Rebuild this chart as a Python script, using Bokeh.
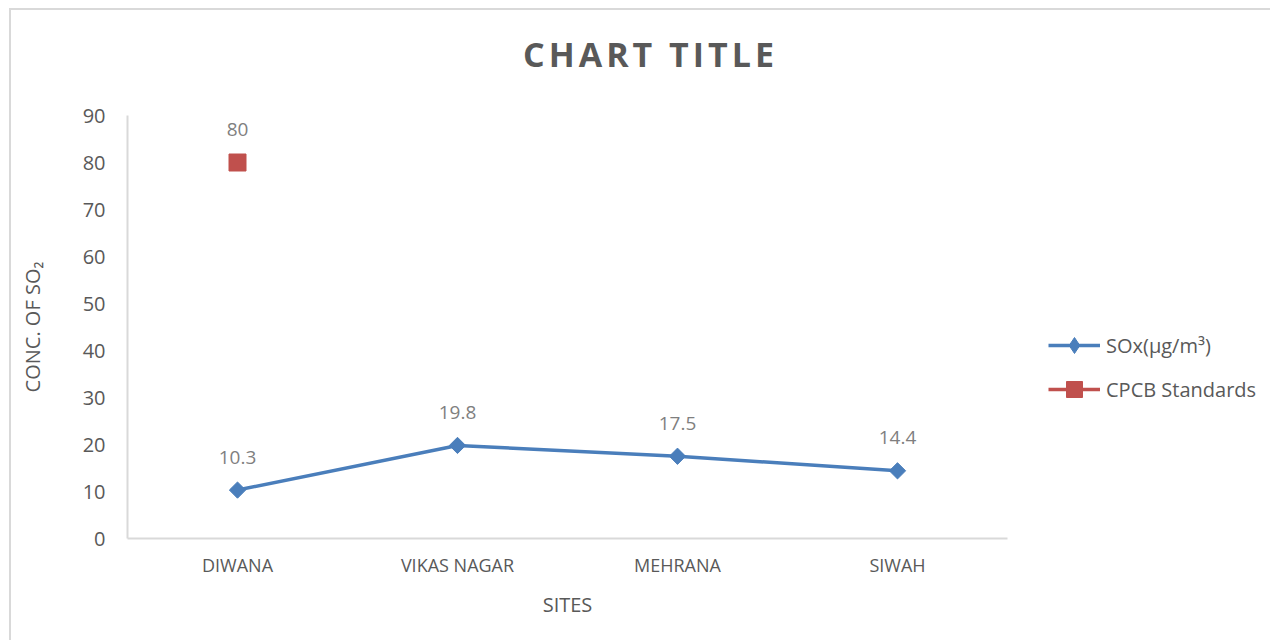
import math
from bokeh.plotting import figure
from bokeh.layouts import row, column
from bokeh.models import (ColumnDataSource, Legend, LegendItem, FixedTicker,
                          FactorRange, Range1d, Div)
from bokeh.core.properties import value
from bokeh.embed import file_html
from bokeh.resources import INLINE

sites = ["DIWANA", "VIKAS NAGAR", "MEHRANA", "SIWAH"]
sox = [10.3, 19.8, 17.5, 14.4]
cpcb_sites = ["DIWANA"]
cpcb = [80]
y_ticks = [0, 10, 20, 30, 40, 50, 60, 70, 80, 90]
chart_title = "CHART TITLE"

FONT = "Open Sans"
GREY = "#595959"
LABEL_GREY = "#7f7f7f"
BLUE = "#4a7ebb"
RED = "#c0504d"

TITLE_H = 88
W, H = 1019, 542
FL, FT, FW, FH = 116, 17, 880, 423

xr = FactorRange(factors=sites, range_padding=0)
yr = Range1d(0, 90)

p = figure(x_range=xr, y_range=yr, width=W, height=H,
           output_backend="svg", toolbar_location=None,
           min_border_left=FL, min_border_right=W - FL - FW,
           min_border_top=FT, min_border_bottom=H - FT - FH)
p.outline_line_color = None
p.xgrid.grid_line_color = None
p.ygrid.grid_line_color = None

src = ColumnDataSource(dict(x=sites, y=sox, lab=[f"{v:g}" for v in sox]))
src2 = ColumnDataSource(dict(x=cpcb_sites, y=cpcb, lab=[f"{v:g}" for v in cpcb]))

p.line("x", "y", source=src, line_color=BLUE, line_width=3.5)
p.scatter("x", "y", source=src, marker="square", size=11.5, angle=math.pi / 4,
          fill_color=BLUE, line_color=BLUE)
p.line("x", "y", source=src2, line_color=RED, line_width=3.5)
p.scatter("x", "y", source=src2, marker="square", size=17,
          fill_color=RED, line_color=RED)

for s in (src, src2):
    p.text("x", "y", text="lab", source=s, text_align="center",
           text_baseline="middle", y_offset=-33, text_color=LABEL_GREY,
           text_font=value(FONT), text_font_size="19px")

# axes
ya = p.yaxis[0]
ya.ticker = FixedTicker(ticks=y_ticks)
ya.axis_line_color = "#d9d9d9"
ya.axis_line_width = 2
ya.major_tick_line_color = None
ya.minor_tick_line_color = None
ya.major_label_text_font = FONT
ya.major_label_text_font_size = "20px"
ya.major_label_text_color = GREY
ya.major_label_standoff = 16
ya.axis_label = "CONC. OF SO\u2082"
ya.axis_label_text_font = FONT
ya.axis_label_text_font_size = "20px"
ya.axis_label_text_font_style = "normal"
ya.axis_label_text_color = GREY
ya.axis_label_standoff = 34

xa = p.xaxis[0]
xa.axis_line_color = "#d9d9d9"
xa.axis_line_width = 2
xa.major_tick_line_color = None
xa.minor_tick_line_color = None
xa.major_label_text_font = FONT
xa.major_label_text_font_size = "18px"
xa.major_label_text_color = GREY
xa.major_label_standoff = 8
xa.axis_label = "SITES"
xa.axis_label_text_font = FONT
xa.axis_label_text_font_size = "20px"
xa.axis_label_text_font_style = "normal"
xa.axis_label_text_color = GREY
xa.axis_label_standoff = 11

# legend panel to the right of the chart
q = figure(x_range=xr, y_range=yr, width=240, height=H,
           output_backend="svg", toolbar_location=None,
           x_axis_location=None, y_axis_location=None, min_border=0)
q.outline_line_color = None
q.grid.visible = False
ql1 = q.line("x", "y", source=src, line_color=BLUE, line_width=3.5, visible=False)
qm1 = q.scatter("x", "y", source=src, marker="diamond", size=16,
                fill_color=BLUE, line_color=BLUE, visible=False)
ql2 = q.line("x", "y", source=src2, line_color=RED, line_width=3.5, visible=False)
qm2 = q.scatter("x", "y", source=src2, marker="square", size=17,
                fill_color=RED, line_color=RED, visible=False)

legend = Legend(items=[LegendItem(label="SOx(\u00b5g/m\u00b3)", renderers=[ql1, qm1]),
                       LegendItem(label="CPCB Standards", renderers=[ql2, qm2])],
                location=(18, 129), orientation="vertical",
                glyph_width=52, glyph_height=40, label_height=20,
                label_standoff=6, spacing=4, padding=0, margin=0,
                border_line_color=None, background_fill_alpha=0,
                inactive_fill_alpha=0,
                label_text_font=FONT, label_text_font_size="20px",
                label_text_color=GREY)
q.add_layout(legend)

title = Div(text=chart_title, width=W + 240, height=TITLE_H, margin=0,
            styles={"font-family": FONT, "font-size": "34px", "font-weight": "bold",
                    "color": GREY, "letter-spacing": "4px", "text-indent": "512px",
                    "line-height": f"{TITLE_H}px", "white-space": "nowrap"})

layout = column(title, row(p, q, spacing=0), spacing=0)
layout.styles = {"border-left": "2px solid #d9d9d9", "border-top": "2px solid #d9d9d9",
                 "margin-left": "9px", "margin-top": "8px"}

open("out.html", "w").write(file_html(layout, INLINE))
